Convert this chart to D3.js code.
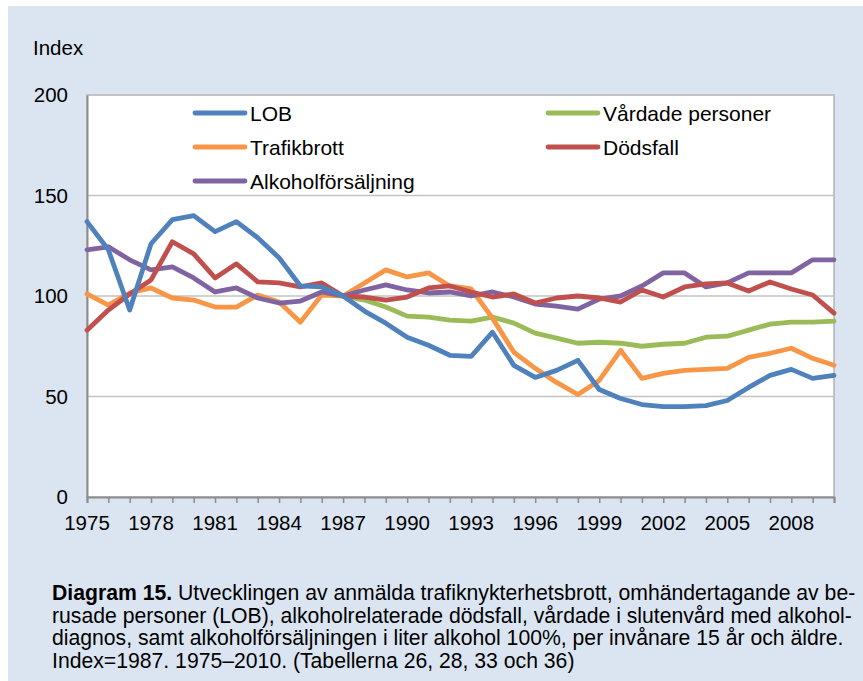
<!DOCTYPE html>
<html>
<head>
<meta charset="utf-8">
<script src="https://cdn.jsdelivr.net/npm/d3@7"></script>
<style>
  body { margin: 0; background: #fff; }
  svg { display: block; font-family: "Liberation Sans", Arial, sans-serif; }
</style>
</head>
<body>
<div id="chart"></div>
<script>
/* data */
var years = d3.range(1975, 2011)
var tickYears = [1975, 1978, 1981, 1984, 1987, 1990, 1993, 1996, 1999, 2002, 2005, 2008]
var yTicks = [0, 50, 100, 150, 200]

var lob = [137, 123, 93, 126, 138, 140, 132, 137, 129, 119, 105, 104.5, 100, 92.5, 86.5, 79.5, 75.5, 70.5, 70, 82, 65.5, 59.5, 63, 68, 53.5, 49, 46, 45, 45, 45.5, 48, 54.5, 60.5, 63.5, 59, 60.5]
var trafik = [101, 95.5, 101.5, 104, 99, 98, 94.5, 94.5, 100.5, 97, 87, 100.5, 100, 106.5, 113, 109.5, 111.5, 105, 103.5, 89, 72, 64, 57, 51, 58, 73, 59, 61.5, 63, 63.5, 64, 69.5, 71.5, 74, 69, 65.5]
var vardade = [null, null, null, null, null, null, null, null, null, null, null, null, 100, 98, 94.5, 90, 89.5, 88, 87.5, 89.5, 86.5, 81.5, 79, 76.5, 77, 76.5, 75, 76, 76.5, 79.5, 80, 83, 86, 87, 87, 87.5]
var dodsfall = [83, 93, 101, 108, 127, 121, 109, 116, 107, 106.5, 104.5, 106.5, 100, 99.5, 98, 99.5, 104, 105, 102, 99.5, 101, 96.5, 99, 100, 99, 97, 103, 99.5, 104.5, 106, 106.5, 102.5, 107, 103.5, 100.5, 91.5]
var alkohol = [123, 124.5, 118, 113, 114.5, 109, 102, 104, 99, 96.5, 97.5, 102, 100, 103, 105.5, 103, 101.5, 102, 100, 102, 99.5, 96, 95, 93.5, 98.5, 100, 105, 111.5, 111.5, 104.5, 106.5, 111.5, 111.5, 111.5, 118, 118]

var seriesNames = ["LOB", "Trafikbrott", "Alkoholförsäljning", "Vårdade personer", "Dödsfall"]
var seriesColors = ["#4f81bd", "#f79646", "#8064a2", "#9bbb59", "#c0504d"]
var seriesValues = [lob, trafik, alkohol, vardade, dodsfall]
// drawing order (last on top)
var drawOrder = ["Vårdade personer", "Trafikbrott", "Alkoholförsäljning", "Dödsfall", "LOB"]

var captionLines = [
  [{ b: true, t: "Diagram 15." }, { b: false, t: " Utvecklingen av anmälda trafiknykterhetsbrott, omhändertagande av be-" }],
  [{ b: false, t: "rusade personer (LOB), alkoholrelaterade dödsfall, vårdade i slutenvård med alkohol-" }],
  [{ b: false, t: "diagnos, samt alkoholförsäljningen i liter alkohol 100%, per invånare 15 år och äldre." }],
  [{ b: false, t: "Index=1987. 1975–2010. (Tabellerna 26, 28, 33 och 36)" }]
]

var width = 863, height = 681
var plot = { left: 87, right: 834, top: 95, bottom: 497 }
var fontFamily = "Liberation Sans, Arial, sans-serif"

var svg = d3.select("#chart").append("svg")
  .attr("width", width)
  .attr("height", height)

svg.append("rect")
  .attr("x", 8).attr("y", 6)
  .attr("width", width - 8).attr("height", height - 6)
  .attr("fill", "#dbe5f1")

svg.append("rect")
  .attr("x", plot.left).attr("y", plot.top)
  .attr("width", plot.right - plot.left).attr("height", plot.bottom - plot.top)
  .attr("fill", "#fff")
  .attr("stroke", "#b3b3b3")
  .attr("stroke-width", 1.5)

var x = d3.scaleLinear().domain([1975, 2010]).range([plot.left, plot.right])
var y = d3.scaleLinear().domain([0, 200]).range([plot.bottom, plot.top])

// gridlines
svg.append("g")
  .selectAll("line")
  .data(yTicks.filter(d => d > 0))
  .enter().append("line")
  .attr("x1", plot.left).attr("x2", plot.right)
  .attr("y1", d => y(d)).attr("y2", d => y(d))
  .attr("stroke", "#c3c3c3")
  .attr("stroke-width", 1.5)

// y axis
var yAxis = svg.append("g")
  .attr("transform", `translate(${plot.left},0)`)
  .call(d3.axisLeft(y).tickValues(yTicks).tickSize(0).tickPadding(19))
yAxis.select(".domain").attr("stroke", "#8c8c8c").attr("stroke-width", 2)
yAxis.selectAll("text").attr("font-size", 20.5).attr("fill", "#000")
  .attr("font-family", fontFamily)

// x axis
var xAxis = svg.append("g")
  .attr("transform", `translate(0,${plot.bottom})`)
  .call(d3.axisBottom(x).tickValues(years).tickSize(6).tickFormat(""))
xAxis.select(".domain").attr("stroke", "#8c8c8c").attr("stroke-width", 2)
xAxis.selectAll(".tick line").attr("stroke", "#8c8c8c").attr("stroke-width", 1.5)

svg.append("g")
  .selectAll("text")
  .data(tickYears)
  .enter().append("text")
  .attr("x", d => x(d))
  .attr("y", plot.bottom + 33)
  .attr("text-anchor", "middle")
  .attr("font-size", 20.5)
  .text(d => d)

svg.append("text")
  .attr("x", 33).attr("y", 55)
  .attr("font-size", 20.5)
  .text("Index")

// lines
var line = d3.line()
  .defined(d => d.v != null)
  .x(d => x(d.year))
  .y(d => y(d.v))

drawOrder.forEach(name => {
  var i = seriesNames.indexOf(name)
  var pts = years.map((yr, j) => ({ year: yr, v: seriesValues[i][j] }))
  svg.append("path")
    .attr("d", line(pts))
    .attr("fill", "none")
    .attr("stroke", seriesColors[i])
    .attr("stroke-width", 4.8)
    .attr("stroke-linejoin", "round")
    .attr("stroke-linecap", "round")
})

// legend
var legendPos = [
  { x: 195, y: 113 }, { x: 195, y: 147 }, { x: 195, y: 181 },
  { x: 548, y: 113 }, { x: 548, y: 147 }
]
seriesNames.forEach((name, i) => {
  var g = svg.append("g").attr("transform", `translate(${legendPos[i].x},${legendPos[i].y})`)
  g.append("line")
    .attr("x1", 0).attr("x2", 50)
    .attr("stroke", seriesColors[i])
    .attr("stroke-width", 4.8)
    .attr("stroke-linecap", "round")
  g.append("text")
    .attr("x", 55).attr("y", 7.5)
    .attr("font-size", 21)
    .text(name)
})

// caption
captionLines.forEach((parts, i) => {
  var t = svg.append("text")
    .attr("x", 52).attr("y", 600 + i * 22.7)
    .attr("font-size", 21.2)
  parts.forEach(p => {
    t.append("tspan")
      .attr("font-weight", p.b ? "bold" : "normal")
      .text(p.t)
  })
})
</script>
</body>
</html>
